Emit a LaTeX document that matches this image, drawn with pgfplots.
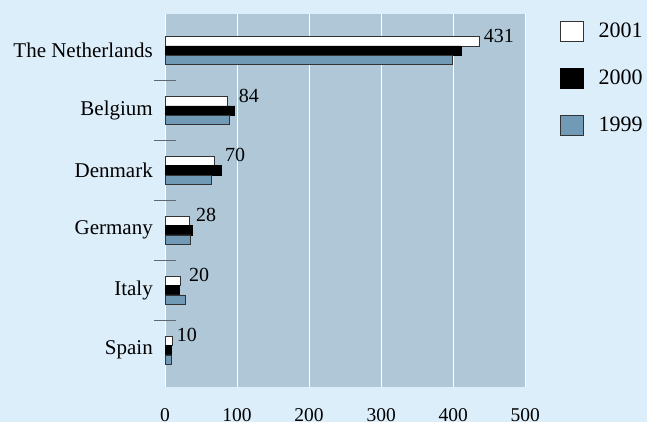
\documentclass[border=0pt]{standalone}
\usepackage{pgfplots}
\pgfplotsset{compat=1.18}
\usepackage{fontspec}
\setmainfont{Liberation Serif}
\definecolor{outerbg}{RGB}{221,238,251}
\definecolor{plotbg}{RGB}{175,199,215}
\definecolor{steel}{RGB}{112,154,181}
\definecolor{sepgray}{RGB}{95,105,115}
\begin{document}
\begin{tikzpicture}
\fill[outerbg] (0,0) rectangle (647pt,422pt);
\begin{axis}[
  at={(165pt,35.3pt)}, anchor=south west,
  scale only axis, width=360.3pt, height=372.7pt,
  xmin=0, xmax=500, ymin=-0.61, ymax=5.61,
  axis background/.style={fill=plotbg},
  axis line style={draw=none},
  tick pos=left,
  xtick={0,100,...,500},
  xmajorgrids, major grid style={draw=white, line width=0.9pt},
  xtick style={draw=none},
  xticklabel style={yshift=-18pt, font=\fontsize{19.5}{23}\selectfont},
  ytick={0,1,2,3,4,5},
  yticklabels={Spain,Italy,Germany,Denmark,Belgium,The Netherlands},
  ytick style={draw=none},
  yticklabel style={inner sep=0pt, xshift=-12pt, font=\fontsize{21}{25}\selectfont},
  extra y ticks={0.5,1.5,2.5,3.5,4.5},
  extra y tick labels={},
  extra y tick style={grid=none, major tick length=22pt, tick align=center,
    ytick style={draw=sepgray, line width=1.1pt}},
  /pgf/number format/assume math mode=true,
  legend style={at={(1.096,0.982)}, anchor=north west, draw=none, fill=none,
    font=\fontsize{22}{26}\selectfont, row sep=26.5pt, inner sep=0pt,
    /tikz/every odd column/.append style={column sep=13pt}},
  legend cell align=left,
  legend image code/.code={\draw[#1] (0pt,-10pt) rectangle (23pt,10pt);},
]
\addplot[xbar, bar width=9.3pt, bar shift=9.3pt, fill=white, draw=black!80, line width=0.6pt]
  coordinates {(436.6,5) (86.6,4) (68,3) (34.3,2) (21.8,1) (10.6,0)};
\addlegendentry{2001}
\addplot[xbar, bar width=9.3pt, bar shift=0pt, fill=black, draw=black, line width=0.6pt]
  coordinates {(410.6,5) (96.8,4) (77.7,3) (37.5,2) (19.4,1) (8.8,0)};
\addlegendentry{2000}
\addplot[xbar, bar width=9.3pt, bar shift=-9.3pt, fill=steel, draw=black!80, line width=0.6pt]
  coordinates {(398,5) (89.8,4) (64.8,3) (35.6,2) (27.8,1) (9.3,0)};
\addlegendentry{1999}
\addplot[draw=none, mark=none, forget plot, nodes near coords, point meta=explicit symbolic,
  nodes near coords style={anchor=west, inner sep=0pt, xshift=4pt, font=\fontsize{20}{24}\selectfont}]
  table[meta=lab] {
x y lab
436.6 5.25 431
96.8 4.25 84
77.7 3.25 70
37.5 2.25 28
27.8 1.25 20
10.6 0.25 10
};
\end{axis}
\end{tikzpicture}
\end{document}
